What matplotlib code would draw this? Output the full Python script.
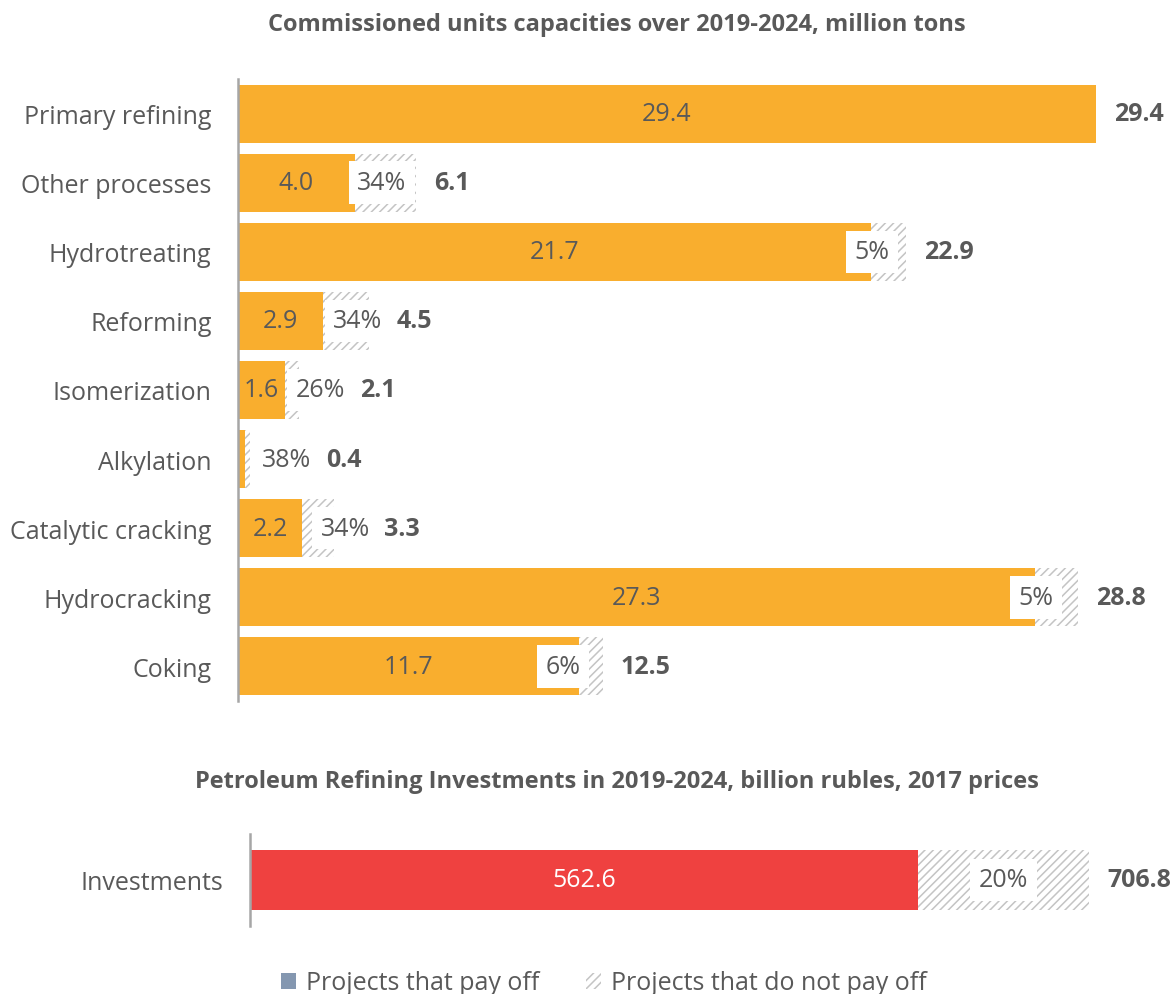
import matplotlib
matplotlib.use("Agg")
import matplotlib.pyplot as plt
from matplotlib.patches import Patch

# ---- data -------------------------------------------------------------
categories = ["Primary refining", "Other processes", "Hydrotreating", "Reforming",
              "Isomerization", "Alkylation", "Catalytic cracking", "Hydrocracking",
              "Coking"]
paid_capacity = [29.4, 4.0, 21.7, 2.9, 1.6, 0.25, 2.2, 27.3, 11.7]
total_capacity = [29.4, 6.1, 22.9, 4.5, 2.1, 0.4, 3.3, 28.8, 12.5]
unpaid_share = ["", "34%", "5%", "34%", "26%", "38%", "34%", "5%", "6%"]

invest_category = ["Investments"]
invest_paid = [562.6]
invest_total = [706.8]
invest_unpaid_share = ["20%"]

# where the share labels sit along each bar (million tons)
share_label_x = [None, 4.93, 21.73, 4.11, 2.84, 1.68, 3.67, 27.35, 11.14]

# ---- style ------------------------------------------------------------
FONT = "Open Sans"
TEXT = "#595959"
ORANGE = "#F9AE2E"
RED = "#EF4140"
HATCH_C = "#C4C4C4"
AXIS_C = "#A6A6A6"
FS = 18
TITLE_FS = 17

plt.rcParams["font.family"] = [FONT, "DejaVu Sans"]
plt.rcParams["hatch.linewidth"] = 1.1
plt.rcParams["hatch.color"] = HATCH_C

W, H = 1176, 995
fig = plt.figure(figsize=(W / 100, H / 100), dpi=100)


def px_axes(left, top, right, bottom):
    return fig.add_axes([left / W, 1 - bottom / H, (right - left) / W, (bottom - top) / H])


def style_axes(ax):
    for s in ("top", "right", "bottom"):
        ax.spines[s].set_visible(False)
    ax.spines["left"].set_color(AXIS_C)
    ax.spines["left"].set_linewidth(1.8)
    ax.set_xticks([])
    ax.tick_params(axis="y", length=0, pad=19, labelsize=FS, labelcolor=TEXT)


renderer = fig.canvas.get_renderer()


def total_label(ax, y, total, share_txt):
    """Bold total to the right of the bar (and of its share label)."""
    x_disp = ax.transData.transform((total, y))[0]
    if share_txt is not None:
        bb = share_txt.get_window_extent(renderer)
        x_disp = max(x_disp, bb.x1 - 4)
    x_data = ax.transData.inverted().transform((x_disp + 18, 0))[0]
    ax.text(x_data, y, f"{total:.1f}", ha="left", va="center", fontsize=FS,
            fontweight="bold", color=TEXT, clip_on=False)


# ---- top chart: commissioned capacities -------------------------------
ax1 = px_axes(238, 80, 1096, 702)
style_axes(ax1)
ypos = list(range(len(categories)))
unpaid = [t - p for t, p in zip(total_capacity, paid_capacity)]
ax1.barh(ypos, paid_capacity, height=0.84, color=ORANGE, linewidth=0)
ax1.barh(ypos, unpaid, left=paid_capacity, height=0.84, color="white",
         edgecolor=HATCH_C, hatch="////", linewidth=0)
ax1.set_xlim(0, max(total_capacity))
ax1.set_ylim(len(categories) - 0.5, -0.5)
ax1.set_yticks(ypos)
ax1.set_yticklabels(categories)

for i, (p, t, s) in enumerate(zip(paid_capacity, total_capacity, unpaid_share)):
    if p >= 1:
        ax1.text(p / 2, i, f"{p:.1f}", ha="center", va="center", fontsize=FS,
                 color=TEXT)
    st = None
    if s:
        st = ax1.text(share_label_x[i], i, s, ha="center", va="center",
                      fontsize=FS, color=TEXT, clip_on=False,
                      bbox=dict(boxstyle="square,pad=0.35", fc="white", ec="none"))
    total_label(ax1, i, t, st)

fig.text(617 / W, 1 - 25 / H, "Commissioned units capacities over 2019-2024, million tons",
         ha="center", va="center", fontsize=TITLE_FS, fontweight="bold", color=TEXT)

# ---- bottom chart: investments ----------------------------------------
ax2 = px_axes(250, 835, 1089, 927)
style_axes(ax2)
ax2.barh([0], invest_paid, height=0.65, color=RED, linewidth=0)
ax2.barh([0], [invest_total[0] - invest_paid[0]], left=invest_paid, height=0.65,
         color="white", edgecolor=HATCH_C, hatch="////", linewidth=0)
ax2.set_xlim(0, invest_total[0])
ax2.set_ylim(-0.5, 0.5)
ax2.set_yticks([0])
ax2.set_yticklabels(invest_category)
ax2.text(invest_paid[0] / 2, 0, f"{invest_paid[0]:.1f}", ha="center", va="center",
         fontsize=FS, color="white")
st2 = ax2.text((invest_paid[0] + invest_total[0]) / 2, 0, invest_unpaid_share[0],
               ha="center", va="center", fontsize=FS, color=TEXT,
               bbox=dict(boxstyle="square,pad=0.35", fc="white", ec="none"))
total_label(ax2, 0, invest_total[0], None)

fig.text(617 / W, 1 - 782 / H,
         "Petroleum Refining Investments in 2019-2024, billion rubles, 2017 prices",
         ha="center", va="center", fontsize=TITLE_FS, fontweight="bold", color=TEXT)

# ---- legend -----------------------------------------------------------
handles = [Patch(facecolor="#8497B0", edgecolor="none", label="Projects that pay off"),
           Patch(facecolor="white", edgecolor=HATCH_C, hatch="////", linewidth=0,
                 label="Projects that do not pay off")]
leg = fig.legend(handles=handles, loc="center", bbox_to_anchor=(604 / W, 1 - 984 / H),
                 ncol=2, frameon=False, fontsize=FS, handlelength=0.6,
                 handleheight=0.6, handletextpad=0.4, columnspacing=1.85)
for t in leg.get_texts():
    t.set_color(TEXT)

fig.savefig("out.png", dpi=100)
